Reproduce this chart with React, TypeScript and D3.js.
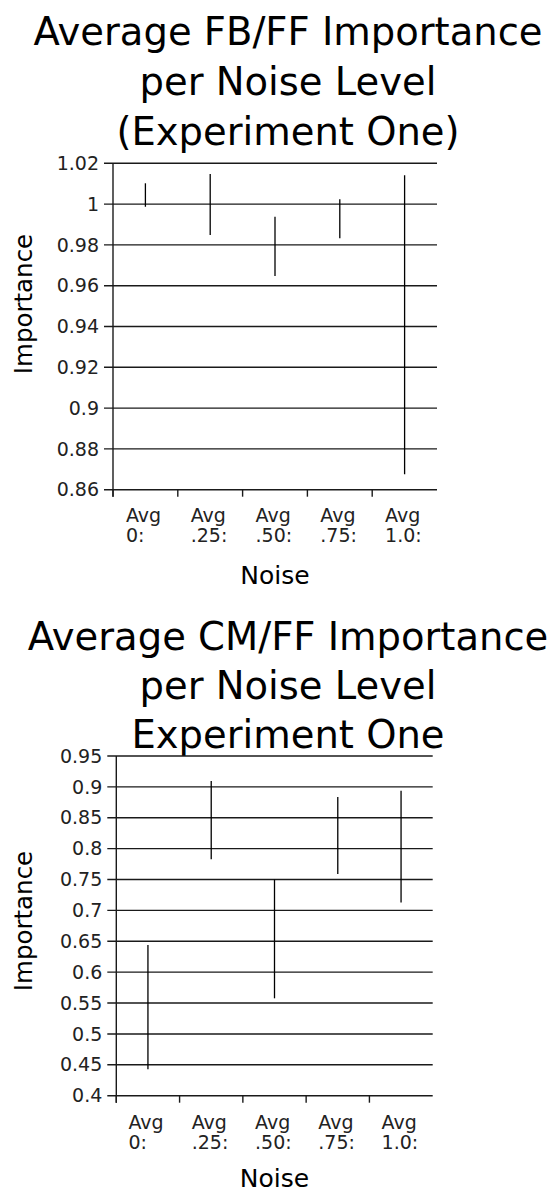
import React from "react";
import * as d3 from "d3";

const noiseLevels = ["Avg 0:", "Avg .25:", "Avg .50:", "Avg .75:", "Avg 1.0:"];

const fbLow = [0.9987, 0.9849, 0.9648, 0.9832, 0.8676];
const fbHigh = [1.0102, 1.0148, 0.9938, 1.0024, 1.0141];
const fbTicks = [0.86, 0.88, 0.9, 0.92, 0.94, 0.96, 0.98, 1.0, 1.02];

const cmLow = [0.443, 0.7827, 0.5577, 0.759, 0.713];
const cmHigh = [0.644, 0.9095, 0.75, 0.8836, 0.8938];
const cmTicks = [0.4, 0.45, 0.5, 0.55, 0.6, 0.65, 0.7, 0.75, 0.8, 0.85, 0.9, 0.95];

const title1 = ["Average FB/FF Importance", "per Noise Level", "(Experiment One)"];
const title2 = ["Average CM/FF Importance", "per Noise Level", "Experiment One"];

const FONT = "DejaVu Sans";
const INK = "#1a1a1a";

type PanelProps = {
  title: string[];
  titleY: number[];
  low: number[];
  high: number[];
  ticks: number[];
  left: number;
  right: number;
  top: number;
  bottom: number;
  tickLabelDy: number;
  noiseY: number;
  importanceY: number;
};

function fmt(v: number) {
  return String(+v.toFixed(2));
}

function Panel(p: PanelProps) {
  const x = d3.scaleBand<string>().domain(noiseLevels).range([p.left, p.right]).padding(0);
  const y = d3
    .scaleLinear()
    .domain([d3.min(p.ticks) as number, d3.max(p.ticks) as number])
    .range([p.bottom, p.top]);
  const bw = x.bandwidth();
  return (
    <g>
      {p.title.map((t, i) => (
        <text
          key={"t" + i}
          x={288}
          y={p.titleY[i]}
          textAnchor="middle"
          fontFamily={FONT}
          fontSize={38.5}
          fill="#000"
        >
          {t}
        </text>
      ))}
      {p.ticks.map((t) => (
        <g key={"g" + t}>
          <line
            x1={p.left - 9}
            x2={p.right}
            y1={y(t)}
            y2={y(t)}
            stroke={INK}
            strokeWidth={1.4}
          />
          <text
            x={p.left - 14}
            y={y(t)}
            dy="0.35em"
            textAnchor="end"
            fontFamily={FONT}
            fontSize={19}
            fill="#222"
          >
            {fmt(t)}
          </text>
        </g>
      ))}
      <line x1={p.left} x2={p.left} y1={p.top} y2={p.bottom + 7} stroke={INK} strokeWidth={1.4} />
      {noiseLevels.map((n) => {
        const x0 = x(n) as number;
        const cx = x0 + bw / 2;
        const parts = n.split(" ");
        return (
          <g key={"x" + n}>
            <line x1={x0} x2={x0} y1={p.bottom} y2={p.bottom + 7} stroke={INK} strokeWidth={1.4} />
            <text fontFamily={FONT} fontSize={19} fill="#222" textAnchor="start">
              <tspan x={cx - 19.5} y={p.bottom + p.tickLabelDy}>
                {parts[0]}
              </tspan>
              <tspan x={cx - 19.5} y={p.bottom + p.tickLabelDy + 20}>
                {parts[1]}
              </tspan>
            </text>
          </g>
        );
      })}
      {noiseLevels.map((n, i) => {
        const cx = (x(n) as number) + bw / 2;
        return (
          <line
            key={"e" + n}
            x1={cx}
            x2={cx}
            y1={y(p.high[i])}
            y2={y(p.low[i])}
            stroke="#000"
            strokeWidth={1.3}
          />
        );
      })}
      <text
        x={(p.left + p.right) / 2}
        y={p.noiseY}
        textAnchor="middle"
        fontFamily={FONT}
        fontSize={25}
        fill="#000"
      >
        Noise
      </text>
      <text
        transform={`translate(23,${p.importanceY}) rotate(-90)`}
        dy="0.35em"
        textAnchor="middle"
        fontFamily={FONT}
        fontSize={24.5}
        fill="#000"
      >
        Importance
      </text>
    </g>
  );
}

export default function App() {
  return (
    <svg
      width={559}
      height={1195}
      style={{ position: "absolute", left: 0, top: 0, background: "#fff" }}
    >
      <rect width={559} height={1195} fill="#fff" />
      <Panel
        title={title1}
        titleY={[45, 95, 145]}
        low={fbLow}
        high={fbHigh}
        ticks={fbTicks}
        left={113}
        right={437}
        top={163.3}
        bottom={489.7}
        tickLabelDy={32}
        noiseY={584}
        importanceY={304}
      />
      <Panel
        title={title2}
        titleY={[650, 699, 748]}
        low={cmLow}
        high={cmHigh}
        ticks={cmTicks}
        left={116.3}
        right={432.7}
        top={756}
        bottom={1095.7}
        tickLabelDy={33}
        noiseY={1187}
        importanceY={921}
      />
    </svg>
  );
}
